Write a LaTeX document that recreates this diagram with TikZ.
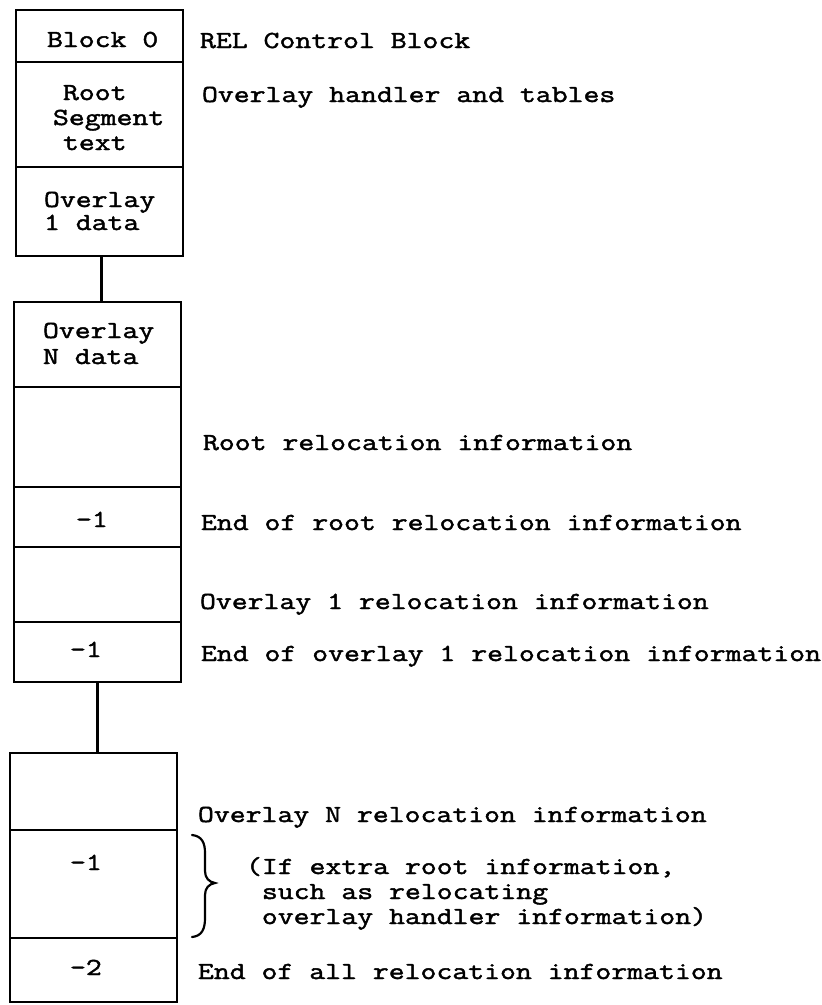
\documentclass[tikz,border=0pt]{standalone}
\usepackage{fontspec}
\newfontfamily\typew{Latin Modern Mono}[FakeStretch=1.26,FakeBold=1.8]
\begin{document}
\begin{tikzpicture}[x=1pt,y=-1pt,
  cell/.style={draw,line width=2.2pt,inner sep=0pt,outer sep=0pt,minimum width=167pt},
  txt/.style={anchor=base west,inner sep=0pt,outer sep=0pt,font=\typew\fontsize{24.5pt}{25pt}\selectfont},
  link/.style={line width=2.2pt},
  brace/.style={line width=2.2pt,line cap=round}]
\useasboundingbox (0,0) rectangle (822,1005);

% first group: control block, root and overlay 1
\node[cell,minimum height=52pt]  (b0)    at (99.5,36)    {};
\node[cell,minimum height=105pt] (root)  at (99.5,114.5) {};
\node[cell,minimum height=89pt]  (ov1)   at (99.5,211.5) {};

% second group: overlay N data and relocation records
\node[cell,minimum height=85pt]  (ovN)   at (97.5,344.5) {};
\node[cell,minimum height=100pt] (rrel)  at (97.5,437)   {};
\node[cell,minimum height=60pt]  (rend)  at (97.5,517)   {};
\node[cell,minimum height=75pt]  (o1rel) at (97.5,584.5) {};
\node[cell,minimum height=60pt]  (o1end) at (97.5,652)   {};

% third group: overlay N relocation and terminators
\node[cell,minimum height=77pt]  (oNrel) at (93.5,791.5) {};
\node[cell,minimum height=108pt] (extra) at (93.5,884)   {};
\node[cell,minimum height=64pt]  (allend) at (93.5,970)  {};

% elided parts of the file
\draw[link] ([xshift=2pt]ov1.south) -- ([xshift=2pt]ov1.south |- ovN.north);
\draw[link] (o1end.south) -- (o1end.south |- oNrel.north);

% text inside the cells
\node[txt] (tb0)  at (47,47)  {Block 0};
\node[txt] (tr1)  at (63,100) {Root};
\node[txt] (tr2)  at (53,125) {Segment};
\node[txt] (tr3)  at (63,150) {text};
\node[txt] (to1a) at (44,207) {Overlay};
\node[txt] (to1b) at (44,230) {1 data};
\node[txt] (toNa) at (43,338) {Overlay};
\node[txt] (toNb) at (43,364) {N data};
\node[txt] (tm1)  at (76,527) {-1};
\node[txt] (tm2)  at (70,657) {-1};
\node[txt] (tm3)  at (70,870) {-1};
\node[txt] (tm4)  at (70,975) {-2};

% descriptions
\node[txt] (l0)  at (200,48)  {REL Control Block};
\node[txt] (l1)  at (202,102) {Overlay handler and tables};
\node[txt] (l2)  at (203,450) {Root relocation information};
\node[txt] (l3)  at (201,530) {End of root relocation information};
\node[txt] (l4)  at (200,609) {Overlay 1 relocation information};
\node[txt] (l5)  at (201,661) {End of overlay 1 relocation information};
\node[txt] (l6)  at (198,822) {Overlay N relocation information};
\node[txt] (l7)  at (246,874) {(If extra root information,};
\node[txt] (l8)  at (246,899) {\phantom{(}such as relocating};
\node[txt] (l9)  at (246,924) {\phantom{(}overlay handler information)};
\node[txt] (l10) at (198,979) {End of all relocation information};

% curly brace beside the optional -1 record
\draw[brace] (192,835) .. controls (202,836) and (205,843) .. (205,853)
  -- (205,871) .. controls (205,878) and (209,882) .. (215,883)
  .. controls (209,884) and (205,888) .. (205,895)
  -- (205,918) .. controls (205,929) and (202,936) .. (192,937);
\end{tikzpicture}
\end{document}
